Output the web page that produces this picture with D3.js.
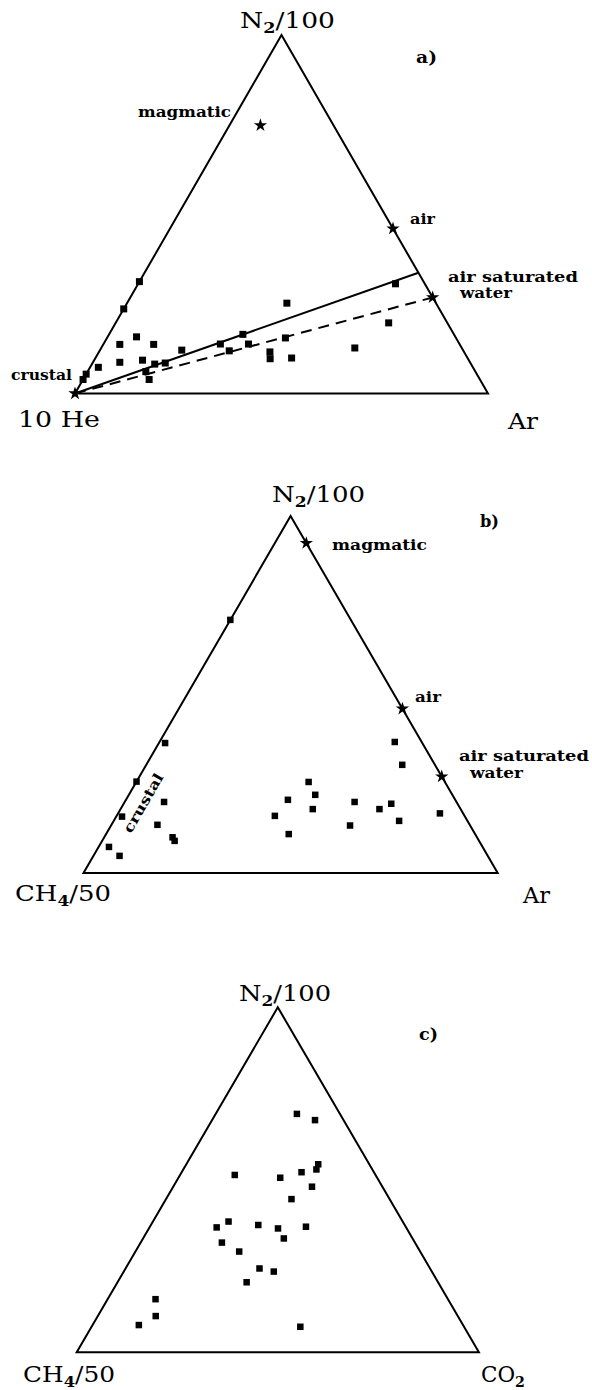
<!DOCTYPE html>
<html>
<head>
<meta charset="utf-8">
<script src="https://cdn.jsdelivr.net/npm/d3@7"></script>
<style>
  body { margin: 0; background: #fff; }
  svg { display: block; }
  .axis-label { font-family: "DejaVu Serif", serif; font-size: 23px; }
  .note { font-family: "DejaVu Serif", serif; font-size: 14px; font-weight: bold; }
</style>
</head>
<body>
<svg id="chart" width="592" height="1390"></svg>
<script>
// every sample is given in percent of the three corners (top, right, left)

// a) N2/100 - Ar - 10 He
const aN2 = [31.2, 23.6, 25.2, 30.6, 19.7, 15.8, 13.7, 13.7, 12.1, 13.8, 16.5, 13.8, 11.9, 11.6, 9.7, 9.9, 15.5, 12.7, 8.7, 9.3, 8.2, 8.5, 7.3, 6.1, 3.9, 5.4, 3.9];
const aAr = [0, 0, 38.7, 62.3, 66.1, 7.0, 4.0, 12.2, 19.8, 28.3, 32.4, 35.1, 31.4, 41.4, 42.4, 47.5, 43.2, 61.4, 6.5, 11.7, 15.2, 17.6, 2.0, 14.1, 16.0, 0, 0];
const aHe = [68.8, 76.4, 36.1, 7.1, 14.2, 77.2, 82.3, 74.1, 68.1, 57.9, 51.1, 51.1, 56.7, 47.0, 47.9, 42.6, 41.3, 25.9, 84.8, 79.0, 76.6, 73.9, 90.7, 79.8, 80.1, 94.6, 96.1];

// end members (magmatic, air, air saturated water, crustal)
const aRefN2 = [74.8, 46.0, 26.8, 0];
const aRefAr = [7.5, 54.0, 73.2, 0];
const aRefHe = [17.7, 0, 0, 100];

// solid mixing line crustal -> right edge
const aLineN2 = [0, 33.7];
const aLineAr = [0, 66.3];
const aLineHe = [100, 0];

// b) N2/100 - Ar - CH4/50
const bN2 = [70.9, 36.4, 25.6, 15.8, 19.9, 13.5, 10.0, 9.0, 7.3, 4.8, 36.7, 30.3, 25.5, 21.9, 20.5, 17.9, 16.0, 10.9, 19.9, 17.9, 19.4, 14.6, 13.3, 16.7];
const bAr = [0, 1.5, 0, 1.4, 9.5, 11.1, 16.5, 17.5, 2.5, 6.3, 56.8, 61.8, 41.6, 45.0, 39.1, 46.4, 38.2, 44.1, 55.5, 62.5, 64.6, 68.9, 57.7, 77.7];
const bCH4 = [29.1, 62.1, 74.4, 82.8, 70.6, 75.4, 73.5, 73.5, 90.2, 88.9, 6.5, 7.9, 32.9, 33.1, 40.4, 35.7, 45.8, 45.0, 24.6, 19.6, 16.0, 16.5, 29.0, 5.6];

// end members (magmatic, air, air saturated water)
const bRefN2 = [92.4, 46.0, 27.0];
const bRefAr = [7.6, 54.0, 73.0];
const bRefCH4 = [0, 0, 0];

// c) N2/100 - CO2 - CH4/50
const cN2 = [69.1, 67.3, 54.5, 53.0, 52.2, 50.6, 51.4, 48.0, 44.4, 37.9, 36.2, 36.9, 35.9, 36.4, 33.0, 31.8, 29.2, 24.3, 23.4, 20.3, 15.4, 10.5, 7.9, 7.4];
const cCO2 = [20.2, 25.6, 32.8, 33.1, 29.8, 25.3, 13.6, 34.5, 31.2, 18.8, 16.7, 26.7, 32.1, 38.8, 35.0, 20.2, 25.8, 33.3, 37.3, 32.1, 11.9, 14.4, 11.5, 51.9];
const cCH4 = [10.7, 7.1, 12.7, 13.9, 18.0, 24.1, 35.0, 17.5, 24.4, 43.3, 47.1, 36.4, 32.0, 24.8, 32.0, 48.0, 45.0, 42.4, 39.3, 47.6, 72.7, 75.1, 80.6, 40.7];

const svg = d3.select('#chart');

// one scale pair per triangle; u = position along the base, v = height
function makePanel(left, right, base, apex) {
    return {
        x: d3.scaleLinear().domain([0, 1]).range([left, right]),
        y: d3.scaleLinear().domain([0, 1]).range([base, apex])
    };
}

// top / right / left shares -> pixel
function tern(p, top, right, left) {
    const s = top + right + left;
    const t = top / s, r = right / s;
    return [p.x(r + t / 2), p.y(t)];
}

function drawTriangle(p) {
    const corners = [[100, 0, 0], [0, 100, 0], [0, 0, 100]].map(c => tern(p, c[0], c[1], c[2]));
    svg.append('path')
        .attr('d', d3.line()(corners) + 'Z')
        .attr('fill', 'none')
        .attr('stroke', '#000')
        .attr('stroke-width', 2)
        .attr('stroke-linejoin', 'miter');
}

function drawSquares(p, top, right, left, size) {
    const pts = top.map((d, i) => tern(p, d, right[i], left[i]));
    svg.append('g')
        .selectAll('rect')
        .data(pts)
        .join('rect')
        .attr('x', d => d[0] - size / 2)
        .attr('y', d => d[1] - size / 2)
        .attr('width', size)
        .attr('height', size)
        .attr('fill', '#000');
}

function drawStars(p, top, right, left) {
    const star = d3.symbol().type(d3.symbolStar).size(55);
    svg.append('g')
        .selectAll('path')
        .data(top.map((d, i) => tern(p, d, right[i], left[i])))
        .join('path')
        .attr('d', star)
        .attr('transform', d => `translate(${d[0]},${d[1]})`)
        .attr('fill', '#000');
}

// text with "_" parts as subscripts
function label(x, y, cls, parts, width, rot) {
    const t = svg.append('text').attr('class', cls).attr('x', x).attr('y', y);
    let shift = 0;
    parts.forEach(s => {
        const sub = s[0] === '_';
        const ts = t.append('tspan').text(sub ? s.slice(1) : s);
        if (sub) { ts.attr('font-size', '0.66em').attr('font-weight', 'bold').attr('dy', 5); shift = 5; }
        else if (shift) { ts.attr('dy', -shift); shift = 0; }
    });
    if (width) t.attr('textLength', width).attr('lengthAdjust', 'spacingAndGlyphs');
    if (rot) t.attr('transform', `rotate(${rot},${x},${y})`);
    return t;
}

// ---------- a)
const pa = makePanel(75, 488, 393.5, 35);
drawTriangle(pa);
const aLine = aLineN2.map((d, i) => tern(pa, d, aLineAr[i], aLineHe[i]));
svg.append('path').attr('d', d3.line()(aLine))
    .attr('stroke', '#000').attr('stroke-width', 2).attr('fill', 'none');
const aDash = [3, 2].map(i => tern(pa, aRefN2[i], aRefAr[i], aRefHe[i]));
svg.append('path').attr('d', d3.line()(aDash))
    .attr('stroke', '#000').attr('stroke-width', 2).attr('fill', 'none')
    .attr('stroke-dasharray', '11,7');
drawSquares(pa, aN2, aAr, aHe, 7);
drawStars(pa, aRefN2, aRefAr, aRefHe);

label(240, 28, 'axis-label', ['N', '_2', '/100'], 95);
label(18, 427, 'axis-label', ['10  He'], 82);
label(508, 429, 'axis-label', ['Ar'], 30);
label(416, 63, 'note', ['a)'], 21).style('font-size', '17px');
label(138, 117, 'note', ['magmatic'], 93);
label(410, 224, 'note', ['air'], 25);
label(448, 282, 'note', ['air saturated'], 130);
label(460, 298, 'note', ['water'], 52);
label(11, 380, 'note', ['crustal'], 61);

// ---------- b)
const pb = makePanel(83.5, 497.7, 873, 516);
drawTriangle(pb);
drawSquares(pb, bN2, bAr, bCH4, 6.5);
drawStars(pb, bRefN2, bRefAr, bRefCH4);

label(272, 502, 'axis-label', ['N', '_2', '/100'], 93);
label(15, 901, 'axis-label', ['CH', '_4', '/50'], 96);
label(523, 903, 'axis-label', ['Ar'], 27);
label(480, 527, 'note', ['b)'], 19).style('font-size', '17px');
label(332, 550, 'note', ['magmatic'], 95);
label(415, 702, 'note', ['air'], 26);
label(459, 761, 'note', ['air saturated'], 130);
label(470, 778, 'note', ['water'], 53);
label(131, 834, 'note', ['crustal'], 66, -60);

// ---------- c)
const pc = makePanel(76.7, 478.9, 1352.3, 1007.3);
drawTriangle(pc);
drawSquares(pc, cN2, cCO2, cCH4, 6.5);

label(239, 1001, 'axis-label', ['N', '_2', '/100'], 92);
label(23, 1382, 'axis-label', ['CH', '_4', '/50'], 92);
label(481, 1382, 'axis-label', ['CO', '_2'], 44);
label(419, 1040, 'note', ['c)'], 19).style('font-size', '17px');
</script>
</body>
</html>
